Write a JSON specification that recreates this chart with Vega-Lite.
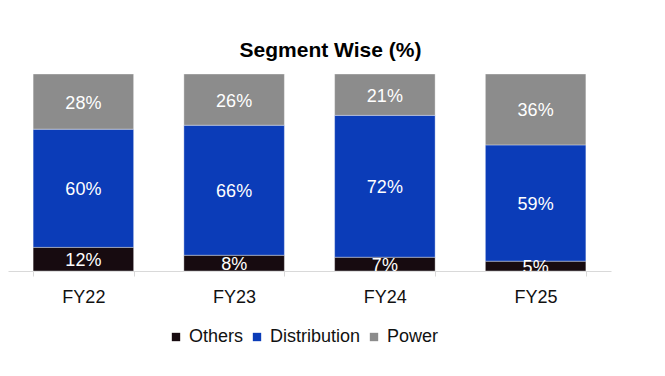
{
  "$schema": "https://vega.github.io/schema/vega-lite/v6.json",
  "width": 603,
  "height": 197,
  "autosize": "none",
  "padding": {"left": 8, "top": 74, "right": 54, "bottom": 105},
  "background": "white",
  "config": {"view": {"stroke": null}, "font": "Liberation Sans"},
  "title": {"text": "Segment Wise (%)", "fontSize": 21, "fontWeight": "bold", "font": "Liberation Sans", "color": "#000000", "anchor": "middle", "dx": 21, "offset": 13},
  "data": {"values": [
    {"year": "FY22", "segment": "Others", "order": 1, "share": 0.12},
    {"year": "FY22", "segment": "Distribution", "order": 2, "share": 0.60},
    {"year": "FY22", "segment": "Power", "order": 3, "share": 0.28},
    {"year": "FY23", "segment": "Others", "order": 1, "share": 0.08},
    {"year": "FY23", "segment": "Distribution", "order": 2, "share": 0.66},
    {"year": "FY23", "segment": "Power", "order": 3, "share": 0.26},
    {"year": "FY24", "segment": "Others", "order": 1, "share": 0.07},
    {"year": "FY24", "segment": "Distribution", "order": 2, "share": 0.72},
    {"year": "FY24", "segment": "Power", "order": 3, "share": 0.21},
    {"year": "FY25", "segment": "Others", "order": 1, "share": 0.05},
    {"year": "FY25", "segment": "Distribution", "order": 2, "share": 0.59},
    {"year": "FY25", "segment": "Power", "order": 3, "share": 0.36}
  ]},
  "transform": [
    {"stack": "share", "groupby": ["year"], "sort": [{"field": "order", "order": "ascending"}], "as": ["y0", "y1"]},
    {"calculate": "(datum.y0 + datum.y1) / 2", "as": "ymid"}
  ],
  "encoding": {
    "x": {
      "field": "year", "type": "nominal",
      "scale": {"paddingInner": 0.3333, "paddingOuter": 0.1667},
      "axis": {"title": null, "labelAngle": 0, "domainColor": "#d9d9d9", "tickColor": "#d9d9d9", "tickSize": 5, "tickBand": "extent", "labelFontSize": 18, "labelPadding": 12, "labelColor": "#111111", "labelFont": "Liberation Sans"}
    }
  },
  "layer": [
    {
      "mark": {"type": "bar", "stroke": "#ffffff", "strokeWidth": 0.6, "strokeOpacity": 0.6},
      "encoding": {
        "y": {"field": "y0", "type": "quantitative", "scale": {"domain": [0, 1]}, "axis": null},
        "y2": {"field": "y1"},
        "color": {
          "field": "segment", "type": "nominal",
          "scale": {"domain": ["Others", "Distribution", "Power"], "range": ["#170b10", "#0b3cb8", "#8c8c8c"]},
          "legend": {"orient": "none", "legendX": 159, "legendY": 254, "direction": "horizontal", "title": null, "symbolType": "square", "symbolSize": 70, "symbolStrokeWidth": 0, "labelFontSize": 18, "labelColor": "#111111", "labelFont": "Liberation Sans", "columnPadding": 4}
        }
      }
    },
    {
      "mark": {"type": "text", "color": "#ffffff", "fontSize": 18, "font": "Liberation Sans", "clip": true, "dy": 2},
      "encoding": {
        "y": {"field": "ymid", "type": "quantitative"},
        "text": {"field": "share", "type": "quantitative", "format": ".0%"}
      }
    }
  ]
}
